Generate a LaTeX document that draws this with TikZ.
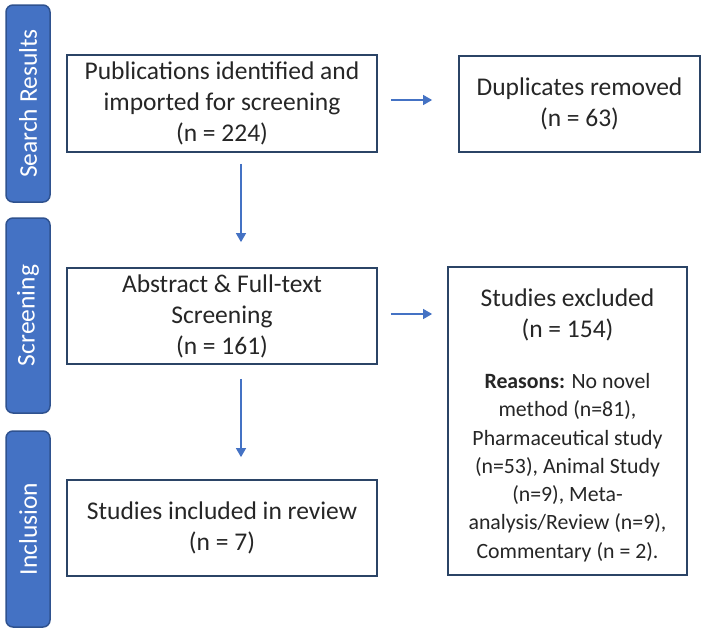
\documentclass[tikz,border=0pt]{standalone}
\usepackage{fontspec}
\setmainfont{Carlito}
\usetikzlibrary{arrows.meta}
\definecolor{barblue}{HTML}{4472C4}
\definecolor{barborder}{HTML}{2F528F}
\definecolor{boxborder}{HTML}{2B4466}
\definecolor{txt}{HTML}{262626}
\begin{document}
\begin{tikzpicture}[x=1pt,y=-1pt,
  phase/.style={draw=barborder, line width=1.5pt, fill=barblue, rounded corners=7pt,
    rotate=90, text=white, font=\fontsize{25.5}{31}\selectfont, minimum height=44pt, inner sep=0pt},
  box/.style={draw=boxborder, line width=1.8pt, fill=white, text=txt, align=center,
    font=\fontsize{25.5}{31}\selectfont, inner sep=0pt},
  lbl/.style={text=txt, align=center, inner sep=0pt},
  arr/.style={draw=barblue, line width=1.3pt, -{Triangle[width=10pt,length=9pt]}}]
\useasboundingbox (0,0) rectangle (707,630);
\fill[white] (0,0) rectangle (707,630);
% phase bars
\node[phase, minimum width=197pt] (p1) at (28,103.5) {Search Results};
\node[phase, minimum width=195pt] (p2) at (28,315.5) {Screening};
\node[phase, minimum width=196pt] (p3) at (28,529) {Inclusion};
% boxes
\node[box, minimum width=310pt, minimum height=97pt] (pub) at (222,103.5)
  {Publications identified and\\imported for screening\\(n = 224)};
\node[box, minimum width=241pt, minimum height=96pt] (dup) at (579.5,104)
  {Duplicates removed\\(n = 63)};
\node[box, minimum width=310pt, minimum height=96pt] (abs) at (222,316)
  {Abstract \& Full-text\\Screening\\(n = 161)};
\node[box, minimum width=239pt, minimum height=308pt] (exc) at (567.5,421) {};
\node[lbl, font=\fontsize{25.5}{31}\selectfont] (exch) at (567.5,315)
  {Studies excluded\\(n = 154)};
\node[lbl, font=\fontsize{21.8}{28.3}\selectfont] (excr) at (567.5,467.5)
  {\textbf{Reasons:} No novel\\method (n=81),\\Pharmaceutical study\\(n=53), Animal Study\\(n=9), Meta-\\analysis/Review (n=9),\\Commentary (n = 2).};
\node[box, minimum width=310pt, minimum height=96pt] (inc) at (222,528)
  {Studies included in review\\(n = 7)};
% arrows
\draw[arr] ([xshift=13pt,yshift=3.5pt]pub.east) -- ([xshift=-26pt,yshift=4pt]dup.west);
\draw[arr] ([xshift=19pt,yshift=-11pt]pub.south) -- ([xshift=19pt,yshift=25pt]abs.north);
\draw[arr] ([xshift=13pt,yshift=2pt]abs.east) -- ([xshift=-15pt,yshift=107pt]exc.west);
\draw[arr] ([xshift=19pt,yshift=-14pt]abs.south) -- ([xshift=19pt,yshift=22pt]inc.north);
\end{tikzpicture}
\end{document}
